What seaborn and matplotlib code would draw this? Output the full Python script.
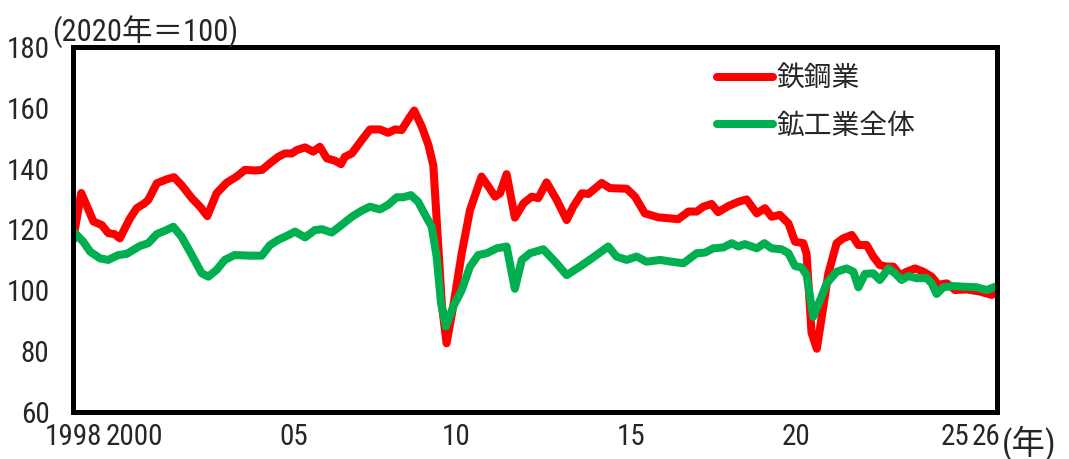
import numpy as np
import pandas as pd
import matplotlib
matplotlib.use("Agg")
import matplotlib.pyplot as plt
from matplotlib import font_manager as fm
import seaborn as sns

# ---- data ----
steel_t = [1998.00, 1998.25, 1998.45, 1998.62, 1998.87, 1999.07, 1999.25, 1999.42, 1999.60, 1999.73,
           1999.93, 2000.15, 2000.28, 2000.54, 2000.84, 2001.06, 2001.29, 2001.60, 2001.85, 2002.07,
           2002.35, 2002.66, 2002.96, 2003.21, 2003.50, 2003.73, 2003.97, 2004.22, 2004.42, 2004.63,
           2004.78, 2005.03, 2005.28, 2005.48, 2005.69, 2005.94, 2006.12, 2006.24, 2006.45, 2006.75,
           2007.00, 2007.30, 2007.55, 2007.76, 2007.96, 2008.16, 2008.34, 2008.57, 2008.77, 2008.92,
           2009.05, 2009.18, 2009.32, 2009.52, 2009.78, 2010.03, 2010.38, 2010.59, 2010.79, 2010.94,
           2011.14, 2011.39, 2011.65, 2011.90, 2012.10, 2012.35, 2012.66, 2012.96, 2013.16, 2013.42,
           2013.62, 2014.02, 2014.27, 2014.78, 2015.03, 2015.33, 2015.74, 2016.34, 2016.65, 2016.90,
           2017.10, 2017.35, 2017.55, 2017.86, 2018.16, 2018.41, 2018.72, 2018.97, 2019.17, 2019.42,
           2019.68, 2019.88, 2020.13, 2020.23, 2020.38, 2020.54, 2020.69, 2020.89, 2021.14, 2021.34,
           2021.60, 2021.80, 2022.05, 2022.25, 2022.45, 2022.66, 2022.86, 2023.06, 2023.26, 2023.52,
           2023.77, 2024.02, 2024.22, 2024.48, 2024.73, 2025.08, 2025.48, 2025.84, 2026.00]
steel_v = [116.5, 132.0, 127.0, 122.6, 121.5, 118.8, 118.5, 117.1, 121.0, 123.7,
           127.0, 128.5, 129.7, 135.2, 136.5, 137.2, 134.6, 130.3, 127.5, 124.4,
           131.9, 135.4, 137.4, 139.6, 139.4, 139.6, 141.8, 143.9, 145.0, 145.0,
           146.1, 147.0, 145.6, 147.2, 143.4, 142.6, 141.5, 143.9, 145.0, 149.4,
           152.9, 152.9, 151.8, 152.9, 152.7, 156.2, 159.1, 153.8, 147.8, 141.0,
           118.0, 95.0, 82.6, 94.6, 112.2, 126.4, 137.4, 134.1, 130.8, 131.9,
           138.2, 123.9, 128.6, 130.8, 130.3, 135.5, 129.7, 123.1, 127.5, 131.9,
           131.7, 135.3, 133.6, 133.4, 130.8, 125.3, 124.0, 123.4, 125.9, 125.9,
           127.5, 128.4, 125.7, 127.7, 129.1, 129.9, 125.3, 127.0, 124.2, 124.8,
           122.0, 116.0, 115.5, 112.0, 86.0, 80.8, 91.3, 105.6, 115.5, 117.1,
           118.2, 114.9, 114.9, 111.1, 108.3, 107.8, 107.8, 105.0, 106.1, 107.2,
           106.1, 104.5, 101.8, 102.3, 100.1, 100.3, 99.6, 98.5, 99.5]

total_t = [1998.00, 1998.06, 1998.31, 1998.52, 1998.82, 1999.07, 1999.37, 1999.63, 2000.03, 2000.28,
           2000.54, 2000.79, 2001.04, 2001.29, 2001.60, 2001.90, 2002.10, 2002.35, 2002.60, 2002.90,
           2003.36, 2003.72, 2003.97, 2004.22, 2004.48, 2004.73, 2005.03, 2005.33, 2005.54, 2005.84,
           2006.14, 2006.45, 2006.75, 2007.00, 2007.30, 2007.55, 2007.81, 2008.01, 2008.24, 2008.46,
           2008.67, 2008.87, 2009.02, 2009.15, 2009.30, 2009.52, 2009.78, 2010.03, 2010.28, 2010.54,
           2010.84, 2011.14, 2011.39, 2011.60, 2011.85, 2012.25, 2012.61, 2012.96, 2013.36, 2013.72,
           2014.22, 2014.47, 2014.78, 2015.08, 2015.38, 2015.79, 2016.14, 2016.50, 2016.90, 2017.15,
           2017.40, 2017.71, 2017.96, 2018.16, 2018.36, 2018.72, 2018.95, 2019.17, 2019.47, 2019.68,
           2019.88, 2020.08, 2020.23, 2020.43, 2020.64, 2020.84, 2021.14, 2021.44, 2021.65, 2021.80,
           2022.00, 2022.25, 2022.45, 2022.71, 2022.91, 2023.11, 2023.31, 2023.56, 2023.87, 2024.02,
           2024.17, 2024.37, 2024.68, 2024.98, 2025.38, 2025.69, 2026.00]
total_v = [119.0, 118.8, 116.0, 112.7, 110.5, 110.0, 111.6, 112.0, 114.6, 115.5,
           118.5, 119.6, 120.9, 117.6, 111.6, 105.6, 104.5, 106.7, 110.0, 111.6,
           111.4, 111.4, 114.9, 116.6, 117.9, 119.3, 117.4, 119.8, 120.1, 119.0,
           121.5, 124.2, 126.2, 127.5, 126.6, 128.1, 130.6, 130.6, 131.3, 129.1,
           124.8, 120.9, 111.0, 96.0, 88.1, 94.6, 100.1, 107.8, 111.6, 112.2,
           113.8, 114.4, 100.5, 110.0, 112.2, 113.5, 109.4, 105.0, 107.8, 110.5,
           114.4, 111.1, 110.0, 111.1, 109.4, 110.0, 109.4, 108.9, 112.2, 112.4,
           113.8, 114.1, 115.5, 114.4, 115.2, 113.8, 115.5, 113.8, 113.5, 112.2,
           108.0, 107.5, 105.0, 91.3, 96.8, 102.3, 106.1, 107.2, 106.1, 101.0,
           105.4, 105.6, 103.4, 107.2, 105.6, 103.4, 104.7, 104.0, 104.0, 102.3,
           98.8, 101.0, 101.4, 101.2, 101.0, 100.1, 101.4]

series_names = ["鉄鋼業", "鉱工業全体"]
tick_years = [1998, 2000, 2005, 2010, 2015, 2020, 2025, 2026]
tick_labels = ["1998", "2000", "05", "10", "15", "20", "25", "26"]
y_ticks = [60, 80, 100, 120, 140, 160, 180]

df = pd.concat([
    pd.DataFrame({"t": steel_t, "v": steel_v, "series": series_names[0]}),
    pd.DataFrame({"t": total_t, "v": total_v, "series": series_names[1]}),
], ignore_index=True)

# ---- pick a narrow latin font if one is installed ----
def find_narrow():
    prefs = ["liberationsansnarrow-regular", "robotocondensed-regular", "dejavusanscondensed.",
             "opensans_condensed-regular", "opensans-condensedregular", "notosans-condensed.",
             "notosans-condensedregular", "notosansdisplay-condensed"]
    files = [(f.fname, f) for f in fm.fontManager.ttflist]
    for p in prefs:
        for fn, f in files:
            base = fn.replace("\\", "/").split("/")[-1].lower()
            if base.startswith(p) or p in base:
                return f
    for fn, f in files:
        base = fn.lower()
        if ("narrow" in base or "condensed" in base) and "bold" not in base \
                and "italic" not in base and "oblique" not in base and "light" not in base:
            return f
    return None

nf = find_narrow()
sns.set_style("white")
if nf is not None:
    latin_family = nf.name
    stretch = nf.stretch
    num_size_y, num_size_x = 21, 21
else:
    latin_family = "Noto Sans CJK JP"
    stretch = "normal"
    num_size_y, num_size_x = 19, 19
plt.rcParams["font.family"] = [latin_family, "Noto Sans CJK JP", "DejaVu Sans"]
plt.rcParams["font.stretch"] = stretch

W, H = 1069, 459
fig = plt.figure(figsize=(W / 100, H / 100), dpi=100)
ax = fig.add_axes([73 / W, 1 - 412 / H, 924 / W, 365 / H])

palette = {series_names[0]: "#FF0000", series_names[1]: "#00B050"}
sns.lineplot(data=df, x="t", y="v", hue="series", palette=palette, estimator=None,
             sort=False, linewidth=5.8, ax=ax, legend=True)
for ln in ax.get_lines():
    ln.set_solid_capstyle("round")
    ln.set_solid_joinstyle("round")

ax.set_xlim(1998, 2026)
ax.set_ylim(60, 180)
ax.set_yticks(y_ticks)
ax.set_yticklabels([str(v) for v in y_ticks])
# label positions slightly left of the year start, as in the reference
label_pos = [t - s for t, s in zip(tick_years, [0.0, 0.15, 0.3, 0.4, 0.1, 0.1, 0.27, 0.33])]
ax.set_xticks(label_pos)
ax.set_xticklabels(tick_labels)
ax.set_xlabel("")
ax.set_ylabel("")
ax.tick_params(axis="y", length=0, labelsize=num_size_y, pad=17)
ax.tick_params(axis="x", length=0, labelsize=num_size_x, pad=8)
for sp in ax.spines.values():
    sp.set_visible(True)
    sp.set_color("black")
    sp.set_linewidth(3.6)
ax.grid(False)

leg = ax.legend(loc="upper left", bbox_to_anchor=((717 - 73) / 924, (412 - 64) / 365),
                frameon=False, fontsize=20, handlelength=2.0, handletextpad=0.15,
                labelspacing=0.6, borderpad=0, borderaxespad=0)
for h in leg.get_lines():
    h.set_linewidth(5.8)
    h.set_solid_capstyle("round")
for txt in leg.get_texts():
    txt.set_fontfamily(["Noto Sans CJK JP"])

fig.text(52 / W, 1 - 42 / H, "(2020年＝100)", fontsize=22, ha="left", va="baseline")
fig.text(1002 / W, 1 - 453 / H, "(年)", fontsize=24, ha="left", va="baseline")

fig.savefig("out.png", dpi=100)
